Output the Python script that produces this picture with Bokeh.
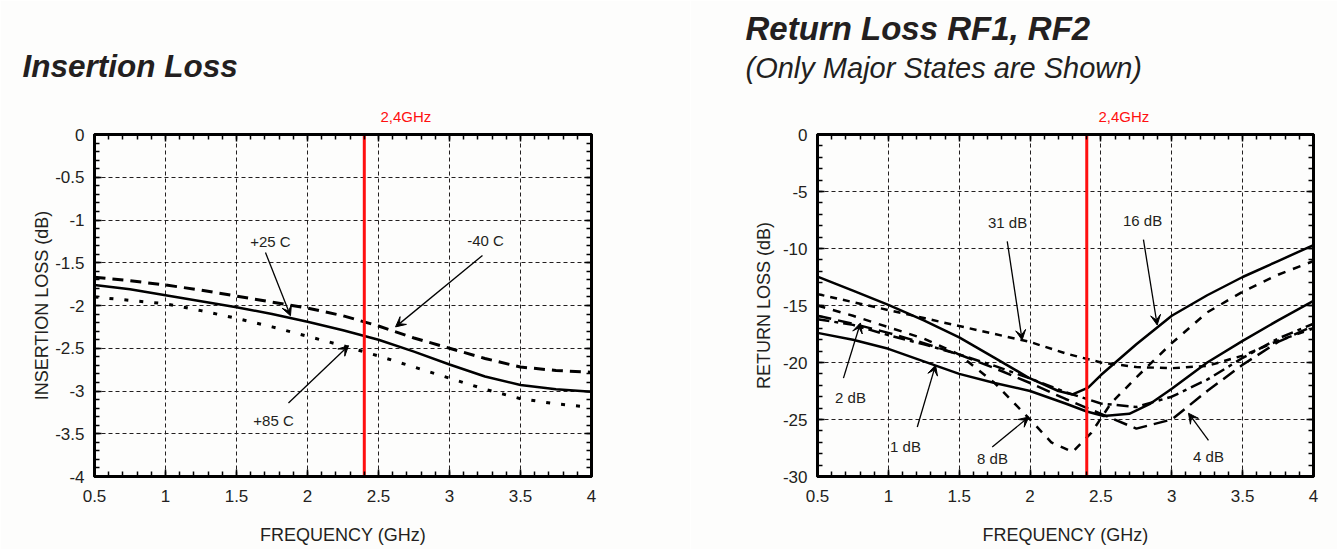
from bokeh.plotting import figure
from bokeh.layouts import row
from bokeh.models import (Range1d, SingleIntervalTicker, LinearAxis, Label, Arrow, Title,
                          VeeHead, NumeralTickFormatter, CustomJSTickFormatter)
from bokeh.embed import file_html
from bokeh.resources import INLINE

FONT = "Liberation Sans"
BG = "#fdfdfc"
INK = "#231f20"
RED = "#ff1010"

# ---------------- data: Insertion Loss ----------------
il_freq = [0.5, 0.75, 1.0, 1.25, 1.5, 1.75, 2.0, 2.25, 2.5, 2.75, 3.0, 3.25, 3.5, 3.75, 4.0]
il_p25 = [-1.76, -1.81, -1.88, -1.95, -2.02, -2.10, -2.19, -2.29, -2.40, -2.54, -2.69, -2.83, -2.93, -2.98, -3.01]
il_m40 = [-1.67, -1.71, -1.76, -1.82, -1.89, -1.96, -2.03, -2.12, -2.24, -2.38, -2.50, -2.62, -2.72, -2.76, -2.78]
il_p85 = [-1.90, -1.94, -1.98, -2.06, -2.15, -2.25, -2.36, -2.47, -2.59, -2.72, -2.85, -2.98, -3.09, -3.15, -3.19]

# ---------------- data: Return Loss ----------------
rl_freq = [0.5, 0.75, 1.0, 1.25, 1.5, 1.75, 2.0, 2.25, 2.5, 2.75, 3.0, 3.25, 3.5, 3.75, 4.0]
rl_31 = [-14.0, -14.7, -15.4, -16.1, -16.8, -17.5, -18.2, -19.2, -20.0, -20.4, -20.5, -20.3, -19.4, -18.1, -17.0]
rl_4 = [-15.9, -16.6, -17.4, -18.3, -19.3, -20.5, -21.8, -23.2, -24.5, -25.8, -25.0, -22.5, -20.2, -18.2, -16.8]
rl_2 = [-16.2, -16.7, -17.6, -18.4, -19.3, -20.3, -21.4, -22.6, -23.6, -23.9, -23.0, -21.5, -19.6, -17.9, -16.6]
rl_f8 = [0.5, 0.75, 1.0, 1.25, 1.5, 1.75, 2.0, 2.15, 2.3, 2.43, 2.57, 2.75, 3.0, 3.25, 3.5, 3.75, 4.0]
rl_8 = [-15.0, -15.9, -16.9, -17.9, -19.3, -21.8, -25.0, -27.0, -27.85, -26.2, -23.6, -21.3, -18.3, -15.6, -13.8, -12.3, -11.1]
rl_f16 = [0.5, 0.75, 1.0, 1.25, 1.5, 1.75, 2.0, 2.2, 2.3, 2.41, 2.5, 2.75, 3.0, 3.25, 3.5, 3.75, 4.0]
rl_16 = [-12.46, -13.7, -14.95, -16.3, -17.8, -19.6, -21.4, -22.5, -22.8, -22.2, -21.1, -18.4, -15.9, -14.1, -12.5, -11.1, -9.7]
rl_f1 = [0.5, 0.75, 1.0, 1.25, 1.5, 1.75, 2.0, 2.25, 2.4, 2.52, 2.7, 2.85, 3.0, 3.25, 3.5, 3.75, 4.0]
rl_1 = [-17.4, -18.0, -18.8, -19.9, -21.0, -21.8, -22.5, -23.6, -24.3, -24.7, -24.5, -23.6, -22.3, -20.0, -18.1, -16.3, -14.6]

marker_freq = 2.4
marker_text = "2,4GHz"


def make_fig(width, left, right, yr, yint, yfmt, ylabel, ylab_standoff):
    p = figure(width=width, height=549, x_range=Range1d(0.5, 4), y_range=Range1d(*yr),
               output_backend="svg", toolbar_location=None,
               min_border_left=left, min_border_right=right,
               min_border_top=134, min_border_bottom=73,
               background_fill_color=BG, border_fill_color=BG,
               x_axis_label="FREQUENCY (GHz)", y_axis_label=ylabel)
    xt = SingleIntervalTicker(interval=0.5, num_minor_ticks=5)
    yt = SingleIntervalTicker(interval=yint, num_minor_ticks=5)
    bottom = p.below[0]
    leftax = p.left[0]
    bottom.ticker = xt
    leftax.ticker = yt
    p.xgrid.ticker = xt
    p.ygrid.ticker = yt
    bottom.formatter = NumeralTickFormatter(format="0.[0]")
    leftax.formatter = NumeralTickFormatter(format=yfmt)
    top = LinearAxis(ticker=xt, formatter=CustomJSTickFormatter(code="return ''"))
    rightax = LinearAxis(ticker=yt, formatter=CustomJSTickFormatter(code="return ''"))
    p.add_layout(top, "above")
    p.add_layout(rightax, "right")
    for ax in (bottom, leftax, top, rightax):
        ax.axis_line_width = 3
        ax.axis_line_color = "black"
        ax.major_tick_in = 7
        ax.major_tick_out = 0
        ax.minor_tick_in = 5
        ax.minor_tick_out = 0
        ax.major_tick_line_width = 1.5
        ax.minor_tick_line_width = 1.5
        ax.major_tick_line_color = "black"
        ax.minor_tick_line_color = "black"
        ax.major_label_text_font = FONT
        ax.major_label_text_font_size = "17px"
        ax.major_label_text_color = INK
        ax.axis_label_text_font = FONT
        ax.axis_label_text_font_size = "18px"
        ax.axis_label_text_font_style = "normal"
        ax.axis_label_text_color = INK
        ax.major_label_standoff = 0
    bottom.major_label_standoff = 13
    bottom.axis_label_standoff = 20
    leftax.major_label_standoff = 10
    leftax.axis_label_standoff = ylab_standoff
    for g in (p.xgrid, p.ygrid):
        g.grid_line_color = INK
        g.grid_line_width = 1
        g.grid_line_dash = "4 3"
    p.outline_line_color = "black"
    p.outline_line_width = 3
    return p


def title(p, text, offset, size, style, standoff, color=INK):
    p.add_layout(Title(text=text, align="left", offset=offset, standoff=standoff,
                       text_font=FONT, text_font_size=size, text_font_style=style,
                       text_color=color), "above")


def label(p, x, y, text):
    p.add_layout(Label(x=x, y=y, text=text, text_font=FONT, text_font_size="15px",
                       text_color=INK, text_align="center", text_baseline="middle"))


def arrow(p, xs, ys, xe, ye):
    p.add_layout(Arrow(x_start=xs, y_start=ys, x_end=xe, y_end=ye, line_width=1.3,
                       line_color="black",
                       end=VeeHead(size=10, fill_color="black", line_color="black", line_width=1)))


# ---------------- left: insertion loss ----------------
p1 = make_fig(690, 94, 99, (-4, 0), 0.5, "0.[0]", "INSERTION LOSS (dB)", 0)
p1.line(il_freq, il_m40, line_color="black", line_width=3, line_dash="11 7")
p1.line(il_freq, il_p85, line_color="black", line_width=3, line_dash="4 11")
p1.line(il_freq, il_p25, line_color="black", line_width=2.5)
p1.segment(x0=[marker_freq], y0=[0.2], x1=[marker_freq], y1=[-4.4], line_color=RED, line_width=3)
title(p1, marker_text, 286, "15px", "normal", 19, RED)
title(p1, "Insertion Loss", -72, "31.5px", "bold italic", 25)
label(p1, 1.739, -1.25, "+25 C")
arrow(p1, 1.704, -1.38, 1.88, -2.12)
label(p1, 3.254, -1.24, "-40 C")
arrow(p1, 3.232, -1.415, 2.62, -2.25)
label(p1, 1.761, -3.345, "+85 C")
arrow(p1, 1.866, -3.14, 2.289, -2.47)

# ---------------- right: return loss ----------------
p2 = make_fig(647, 127, 24, (-30, 0), 5, "0", "RETURN LOSS (dB)", 6)
p2.line(rl_freq, rl_31, line_color="black", line_width=2.5, line_dash="7 6")
p2.line(rl_freq, rl_4, line_color="black", line_width=2.5, line_dash="14 7")
p2.line(rl_freq, rl_2, line_color="black", line_width=2.5, line_dash="12 5 4 5")
p2.line(rl_f8, rl_8, line_color="black", line_width=2.5, line_dash="8 8")
p2.line(rl_f16, rl_16, line_color="black", line_width=2.5)
p2.line(rl_f1, rl_1, line_color="black", line_width=2.5)
p2.segment(x0=[marker_freq], y0=[2], x1=[marker_freq], y1=[-33], line_color=RED, line_width=3)
title(p2, marker_text, 281, "15px", "normal", 19, RED)
title(p2, "(Only Major States are Shown)", -72, "29px", "italic", 25)
title(p2, "Return Loss RF1, RF2", -72, "33px", "bold italic", -18)
label(p2, 1.841, -7.74, "31 dB")
arrow(p2, 1.839, -9.38, 1.944, -18.03)
label(p2, 2.794, -7.56, "16 dB")
arrow(p2, 2.80, -9.23, 2.897, -16.71)
label(p2, 0.733, -23.04, "2 dB")
arrow(p2, 0.683, -21.37, 0.803, -16.53)
label(p2, 1.121, -27.35, "1 dB")
arrow(p2, 1.204, -25.66, 1.333, -20.23)
label(p2, 1.735, -28.41, "8 dB")
arrow(p2, 1.733, -27.41, 1.991, -24.78)
label(p2, 3.259, -28.23, "4 dB")
arrow(p2, 3.259, -26.83, 3.118, -24.45)

layout = row(p1, p2)
open("out.html", "w").write(file_html(layout, INLINE))
